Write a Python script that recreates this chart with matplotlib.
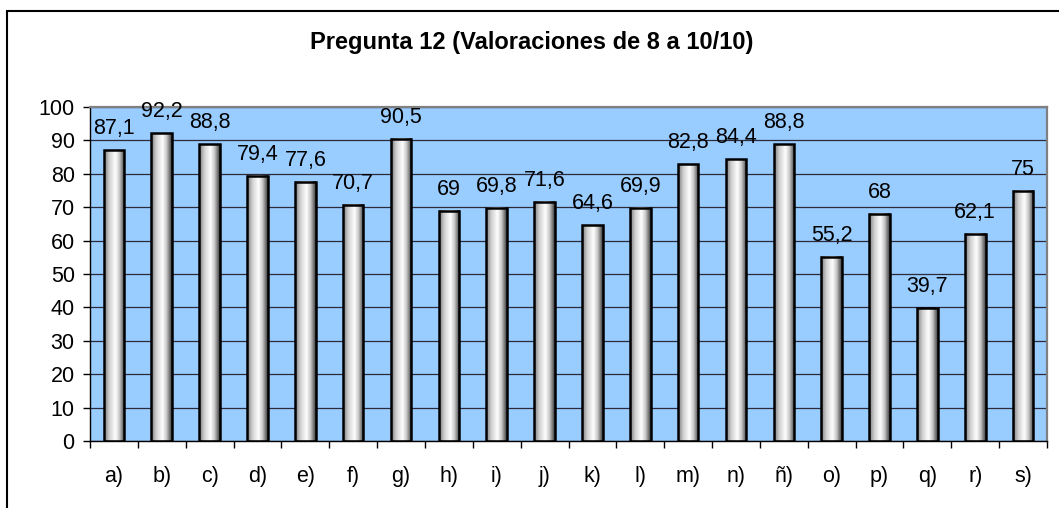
import matplotlib
matplotlib.use("Agg")
import matplotlib.pyplot as plt
import numpy as np
from matplotlib.colors import LinearSegmentedColormap
from matplotlib.patches import Rectangle

plt.rcParams["font.family"] = ["Liberation Sans", "DejaVu Sans"]

categories = ["a)", "b)", "c)", "d)", "e)", "f)", "g)", "h)", "i)", "j)",
              "k)", "l)", "m)", "n)", "ñ)", "o)", "p)", "q)", "r)", "s)"]
values = [87.1, 92.2, 88.8, 79.4, 77.6, 70.7, 90.5, 69, 69.8, 71.6,
          64.6, 69.9, 82.8, 84.4, 88.8, 55.2, 68, 39.7, 62.1, 75]
title = "Pregunta 12 (Valoraciones de 8 a 10/10)"

# cylinder-like shading for the bars
shade = LinearSegmentedColormap.from_list(
    "cyl", [(0.0, "#7a7a7a"), (0.25, "#d0d0d0"), (0.55, "#ffffff"),
            (0.75, "#c8c8c8"), (1.0, "#3c3c3c")])
grad = np.linspace(0, 1, 64).reshape(1, -1)

fig = plt.figure(figsize=(10.59, 5.08), dpi=100)
ax = fig.add_axes([90 / 1059, 67 / 508, 957 / 1059, 334 / 508])
ax.set_facecolor("#99ccff")

# outer chart frame
fig.patches.append(Rectangle((6.5 / 1059, -0.1), 1.2, (508 - 11.5) / 508 + 0.1,
                             transform=fig.transFigure, fill=False,
                             edgecolor="black", linewidth=1.5))

x = np.arange(len(values))
width = 0.43
bars = ax.bar(x, values, width=width, facecolor="none", edgecolor="black",
              linewidth=1.8, zorder=3)
for b in bars:
    x0 = b.get_x()
    ax.imshow(grad, cmap=shade, extent=[x0, x0 + width, 0, b.get_height()],
              aspect="auto", zorder=2.5, interpolation="bicubic")

for xi, v in zip(x, values):
    ax.annotate(f"{v:g}".replace(".", ","), xy=(xi, v), xytext=(0, 11.5),
                textcoords="offset points", ha="center", va="baseline",
                fontsize=15.5, zorder=4)

ax.set_xlim(-0.5, len(values) - 0.5)
ax.set_ylim(0, 100)
ax.set_yticks(range(0, 101, 10))
ax.yaxis.grid(True, color="#2b2b3a", linewidth=0.9, zorder=1)
ax.set_axisbelow(True)

ax.set_xticks(x)
ax.set_xticklabels(categories)
ax.set_xticks(np.arange(-0.5, len(values)), minor=True)
ax.tick_params(axis="x", which="major", length=0, pad=18, labelsize=15.5)
ax.tick_params(axis="x", which="minor", length=5, width=1, direction="out")
ax.tick_params(axis="y", length=5, width=1, direction="out", pad=6, labelsize=15.5)

for side in ("top", "right"):
    ax.spines[side].set_color("#808080")
    ax.spines[side].set_linewidth(1.6)
ax.spines["left"].set_linewidth(1.0)
ax.spines["bottom"].set_linewidth(1.0)

fig.text(0.502, 1 - 42 / 508, title, ha="center", va="center",
         fontsize=17, fontweight="bold")

fig.savefig("out.png", dpi=100)
